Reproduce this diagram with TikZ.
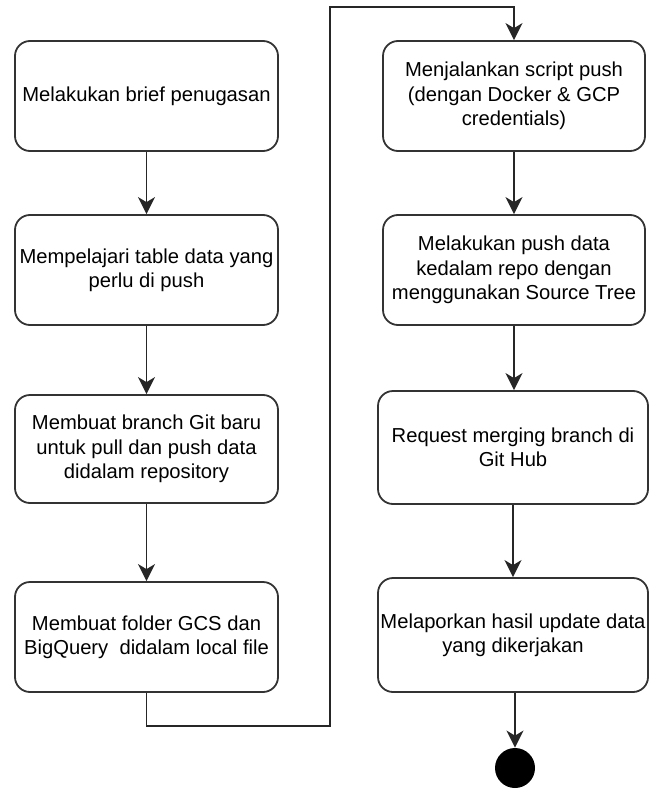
\documentclass[tikz,border=0pt]{standalone}
\usepackage{fontspec}
\setmainfont{Liberation Sans}
\usepackage{tikz}
\usetikzlibrary{arrows.meta}

\begin{document}
\begin{tikzpicture}[x=0.5pt,y=-0.5pt]
              \tikzstyle{every node}+=[inner sep=0pt]
              \tikzstyle{stepbox}=[draw=black!80, line width=0.9pt, rounded corners=7.5pt, align=center, minimum width=131.5pt, minimum height=55pt, font=\fontsize{10.1}{12.2}\selectfont]
              \tikzstyle{widebox}=[stepbox, minimum width=135pt, minimum height=56.5pt]
              \tikzstyle{endpoint}=[circle, fill=black, minimum size=20pt]
              \tikzstyle{flow}=[black!85, line width=0.9pt, -{Stealth[length=8.5pt,width=8.5pt,inset=2.5pt]}]
              \useasboundingbox (0,0) rectangle (648,792);
              \node [stepbox] (brief) at (146.5,96) {Melakukan brief penugasan};
              \node [stepbox] (tabel) at (146.5,270) {Mempelajari table data yang\\perlu di push};
              \node [stepbox, minimum height=54pt] (branch) at (146.5,449) {Membuat branch Git baru\\untuk pull dan push data\\didalam repository};
              \node [stepbox] (folder) at (146.5,637) {Membuat folder GCS dan\\BigQuery\ \ didalam local file};
              \node [stepbox, minimum width=131pt] (script) at (514,96) {Menjalankan script push\\(dengan Docker \& GCP\\credentials)};
              \node [stepbox, minimum width=131pt] (pushdata) at (514,270) {Melakukan push data\\kedalam repo dengan\\menggunakan Source Tree};
              \node [widebox] (merging) at (513,447.5) {Request merging branch di\\Git Hub};
              \node [widebox, minimum height=57pt] (laporan) at (513,635) {Melaporkan hasil update data\\yang dikerjakan};
              \node [endpoint] (selesai) at (515,768) {};
              \coordinate (bawah) at (330,726);
              \coordinate (atas) at (330,7);
              \draw [flow] (brief) -- (tabel);
              \draw [flow] (tabel) -- (branch);
              \draw [flow] (branch) -- (folder);
              \draw [flow] (folder.south) |- (bawah) -- (atas) -| (script.north);
              \draw [flow] (script) -- (pushdata);
              \draw [flow] (pushdata.south) -- (pushdata.south |- merging.north);
              \draw [flow] (merging) -- (laporan);
              \draw [flow] (laporan.south -| selesai) -- (selesai);
            \end{tikzpicture}
\end{document}
